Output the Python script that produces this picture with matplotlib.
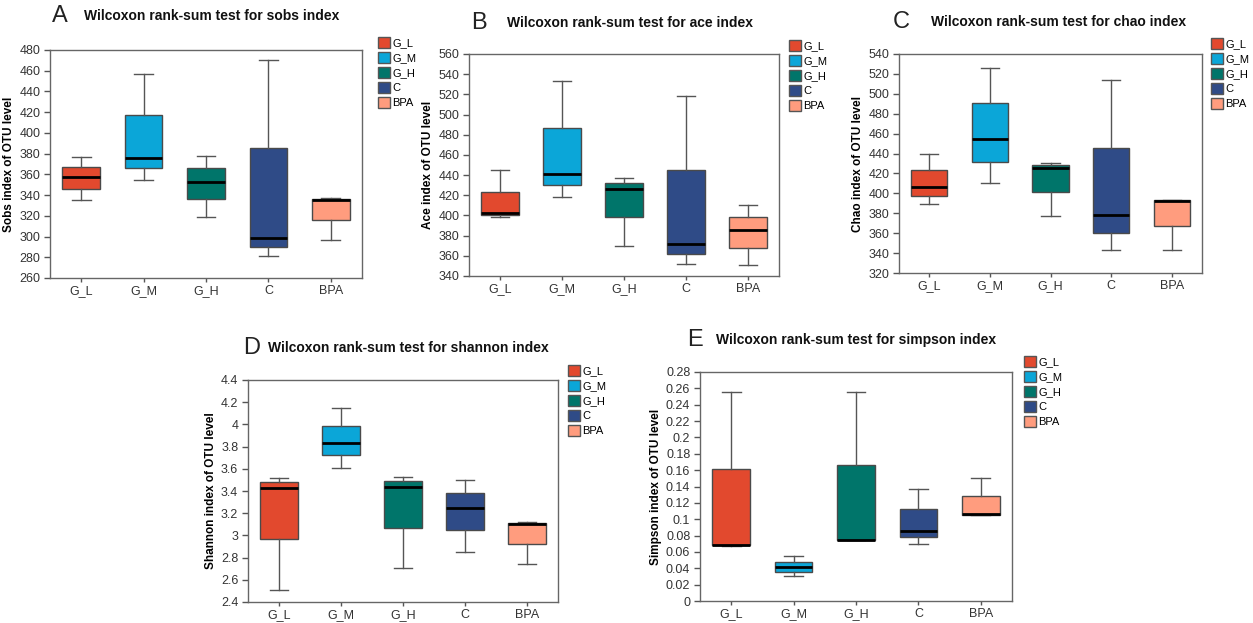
"""Wilcoxon rank-sum boxplots for five alpha-diversity indices (panels A-E)."""
import matplotlib
import matplotlib.pyplot as plt
from matplotlib.patches import Patch

matplotlib.use("Agg")
plt.rcParams["font.family"] = ["Liberation Sans", "DejaVu Sans"]

GROUPS = ["G_L", "G_M", "G_H", "C", "BPA"]
COLORS = ["#E2492E", "#0BA6D8", "#00756A", "#2F4B87", "#FF9C7E"]

# per group: (whislo, q1, med, q3, whishi)
SOBS = [(335, 346, 357, 367, 377), (355, 366, 376, 417, 457), (319, 336, 353, 366, 378),
        (281, 290, 299, 385, 470), (297, 316, 335.5, 336, 337)]
ACE = [(398, 400, 402, 423, 445), (418, 430, 441, 487, 533), (370, 398, 426, 432, 437),
       (352, 362, 372, 445, 518), (351, 368, 386, 398, 410)]
CHAO = [(389, 397, 406, 423, 440), (410, 432, 455, 491, 526), (377, 401, 425, 428, 431),
        (343, 360, 378, 446, 514), (343, 367, 392.5, 393, 393)]
SHANNON = [(2.51, 2.97, 3.43, 3.48, 3.52), (3.61, 3.72, 3.83, 3.99, 4.15),
           (2.71, 3.07, 3.44, 3.49, 3.53), (2.85, 3.05, 3.25, 3.38, 3.50),
           (2.74, 2.92, 3.10, 3.11, 3.12)]
SIMPSON = [(0.067, 0.068, 0.068, 0.162, 0.256), (0.030, 0.036, 0.042, 0.048, 0.055),
           (0.074, 0.074, 0.074, 0.166, 0.256), (0.070, 0.078, 0.086, 0.112, 0.137),
           (0.105, 0.105, 0.106, 0.128, 0.150)]

W, H = 1253, 623

# ── panel layout in pixels: (letter, name, data, ylim, yticks, axes box, title y, letter x, title x, legend x/y)
PANELS = [
    ("A", "sobs", "Sobs", SOBS, (260, 480), [260 + 20 * i for i in range(12)],
     (50, 362, 50, 278), 16, 52, 84, (378, 37)),
    ("B", "ace", "Ace", ACE, (340, 560), [340 + 20 * i for i in range(12)],
     (469, 779, 54, 276), 23, 471, 507, (789, 40)),
    ("C", "chao", "Chao", CHAO, (320, 540), [320 + 20 * i for i in range(12)],
     (899, 1202, 54, 273), 22, 893, 931, (1211, 38)),
    ("D", "shannon", "Shannon", SHANNON, (2.4, 4.4), [2.4 + 0.2 * i for i in range(11)],
     (248, 558, 380, 602), 348, 243, 268, (568, 365)),
    ("E", "simpson", "Simpson", SIMPSON, (0, 0.28), [0.02 * i for i in range(15)],
     (700, 1012, 372, 601), 340, 687, 716, (1024, 356)),
]


def fmt(v):
    s = f"{v:.2f}".rstrip("0").rstrip(".")
    return s


fig = plt.figure(figsize=(W / 100, H / 100), dpi=100)

for letter, name, label, data, ylim, yticks, box, ty, lx, tx, (gx, gy) in PANELS:
    l, r, t, b = box
    ax = fig.add_axes([l / W, 1 - b / H, (r - l) / W, (b - t) / H])
    stats = [dict(whislo=d[0], q1=d[1], med=d[2], q3=d[3], whishi=d[4], fliers=[]) for d in data]
    res = ax.bxp(stats, positions=range(1, 6), widths=0.6, capwidths=0.3,
                 patch_artist=True, showfliers=False,
                 boxprops=dict(edgecolor="#4a4a4a", linewidth=1.0),
                 whiskerprops=dict(color="#555555", linewidth=1.0),
                 capprops=dict(color="#555555", linewidth=1.0),
                 medianprops=dict(color="black", linewidth=2.0))
    for patch, c in zip(res["boxes"], COLORS):
        patch.set_facecolor(c)

    ax.set_xlim(0.5, 5.5)
    ax.set_ylim(*ylim)
    ax.set_yticks(yticks)
    ax.set_yticklabels([fmt(v) for v in yticks], fontsize=9, color="#333333")
    ax.set_xticks(range(1, 6))
    ax.set_xticklabels(GROUPS, fontsize=9, color="#333333")
    ax.tick_params(axis="y", length=4, color="#555555", width=1, pad=3)
    ax.tick_params(axis="x", length=3, color="#555555", width=1, pad=2)
    for sp in ax.spines.values():
        sp.set_color("#666666")
        sp.set_linewidth(1.0)
    ax.set_ylabel(f"{label} index of OTU level", fontsize=8.5, fontweight="bold", labelpad=3)

    fig.text(lx / W, 1 - ty / H, letter, fontsize=17, fontweight="light",
             va="center", ha="left", color="#222222")
    fig.text(tx / W, 1 - ty / H, f"Wilcoxon rank-sum test for {name} index",
             fontsize=10, fontweight="bold", va="center", ha="left", color="#111111")

    handles = [Patch(facecolor=c, edgecolor="#555555", label=g) for g, c in zip(GROUPS, COLORS)]
    fig.legend(handles=handles, loc="upper left", bbox_to_anchor=(gx / W, 1 - gy / H),
               frameon=False, fontsize=8, handlelength=1.1, handleheight=1.1,
               handletextpad=0.2, labelspacing=0.35, borderpad=0, borderaxespad=0)

fig.savefig("out.png", dpi=100)
